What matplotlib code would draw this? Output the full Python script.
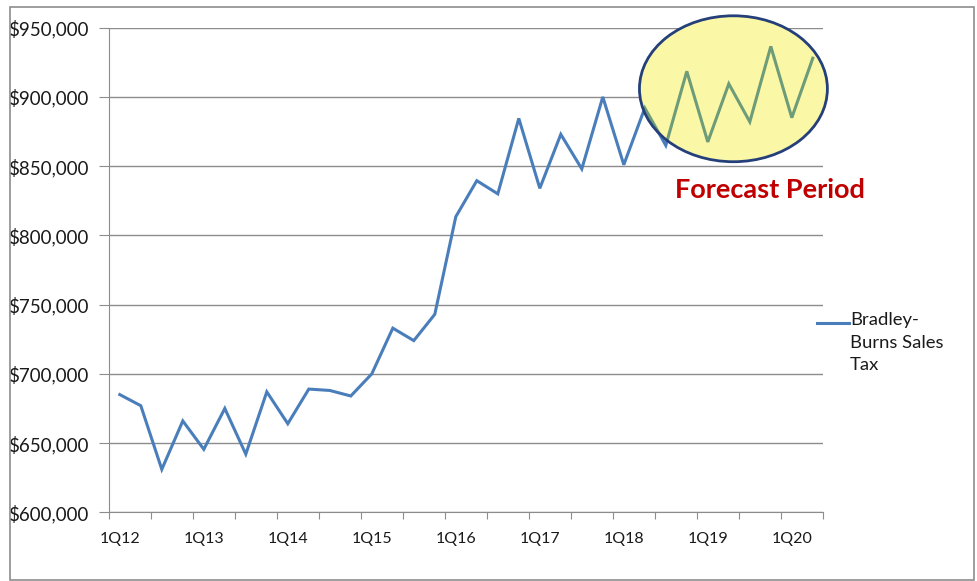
import matplotlib
matplotlib.use("Agg")
import matplotlib.pyplot as plt
from matplotlib.patches import Ellipse, Rectangle
from matplotlib.lines import Line2D
from matplotlib.ticker import FixedLocator, FuncFormatter

# ---- data ----
quarters = ["1Q12", "2Q12", "3Q12", "4Q12", "1Q13", "2Q13", "3Q13", "4Q13",
            "1Q14", "2Q14", "3Q14", "4Q14", "1Q15", "2Q15", "3Q15", "4Q15",
            "1Q16", "2Q16", "3Q16", "4Q16", "1Q17", "2Q17", "3Q17", "4Q17",
            "1Q18", "2Q18", "3Q18", "4Q18", "1Q19", "2Q19", "3Q19", "4Q19",
            "1Q20", "2Q20"]
sales_tax = [685000, 677000, 631000, 666000, 645500, 675000, 642000, 687000,
             664000, 689000, 688000, 684000, 700000, 733000, 724000, 743000,
             813500, 839500, 830000, 884500, 834000, 873000, 848000, 900000,
             851000, 892000, 865000, 918500, 867500, 909500, 882000, 936500,
             885000, 928000]
series_label = "Bradley-\nBurns Sales\nTax"
yticks = [600000, 650000, 700000, 750000, 800000, 850000, 900000, 950000]
annotation = "Forecast Period"

plt.rcParams['font.family'] = ['Lato', 'DejaVu Sans']

W, H = 978, 581
fig = plt.figure(figsize=(W / 100, H / 100), dpi=100)
fig.patch.set_facecolor("white")

# outer chart border
fig.add_artist(Rectangle((10 / W, 1 - 580 / H), (974 - 10) / W, (580 - 7) / H,
                         transform=fig.transFigure, fill=False,
                         edgecolor="#8c8c8c", linewidth=1.2))

left, right, top, bottom = 109.3, 823.3, 27.7, 512.3
ax = fig.add_axes([left / W, 1 - bottom / H, (right - left) / W, (bottom - top) / H])

n = len(quarters)
x = list(range(n))
ax.set_xlim(-0.5, n - 0.5)
ax.set_ylim(yticks[0], yticks[-1])

line_color = "#4A7EBB"
ax.plot(x, sales_tax, color=line_color, linewidth=2.2, zorder=3,
        solid_joinstyle="miter")

# highlight ellipse
ell_fill = Ellipse((29.22, 905900), 8.95, 105400, facecolor="#FAF8A6",
                   edgecolor="none", zorder=4, clip_on=False)
ax.add_patch(ell_fill)
green_line, = ax.plot(x, sales_tax, color="#6E9C78", linewidth=2.2, zorder=5,
                      solid_joinstyle="miter")
green_line.set_clip_path(ell_fill)
ax.add_patch(Ellipse((29.22, 905900), 8.95, 105400, facecolor="none",
                     edgecolor="#243F7A", linewidth=2.0, zorder=6, clip_on=False))

ax.text(30.94, 833000, annotation, color="#C00000", fontsize=19.5,
        fontweight="bold", ha="center", va="center", zorder=7)

# axes styling
for s in ["top", "right"]:
    ax.spines[s].set_visible(False)
ax.spines["left"].set_color("#8c8c8c")
ax.spines["bottom"].set_color("#8c8c8c")
ax.set_yticks(yticks)
ax.yaxis.set_major_formatter(FuncFormatter(lambda v, p: "${:,.0f}".format(v)))
ax.yaxis.grid(True, color="#8c8c8c", linewidth=1.0)
ax.set_axisbelow(True)
ax.tick_params(axis="y", direction="out", length=7, color="#8c8c8c",
               labelsize=13.5, pad=8, labelcolor="#1a1a1a")

# x: ticks between categories every 2, labels every 4
ax.xaxis.set_major_locator(FixedLocator([i - 0.5 for i in range(0, n + 1, 2)]))
ax.set_xticklabels([])
ax.xaxis.set_minor_locator(FixedLocator([i for i in range(0, n, 4)]))
ax.xaxis.set_minor_formatter(FuncFormatter(lambda v, p: quarters[int(round(v))]))
ax.tick_params(axis="x", which="major", direction="out", length=5,
               color="#8c8c8c")
ax.tick_params(axis="x", which="minor", length=0, labelsize=11.5, pad=14,
               labelcolor="#1a1a1a")

# legend (manual)
fig.add_artist(Line2D([817 / W, 849 / W], [1 - 322.7 / H, 1 - 322.7 / H],
                      transform=fig.transFigure, color=line_color, linewidth=2.2))
fig.text(850 / W, 1 - 312 / H, series_label, fontsize=13.3, va="top", ha="left",
         color="#1a1a1a", linespacing=1.5)

fig.savefig("out.png", dpi=100, facecolor="white")
